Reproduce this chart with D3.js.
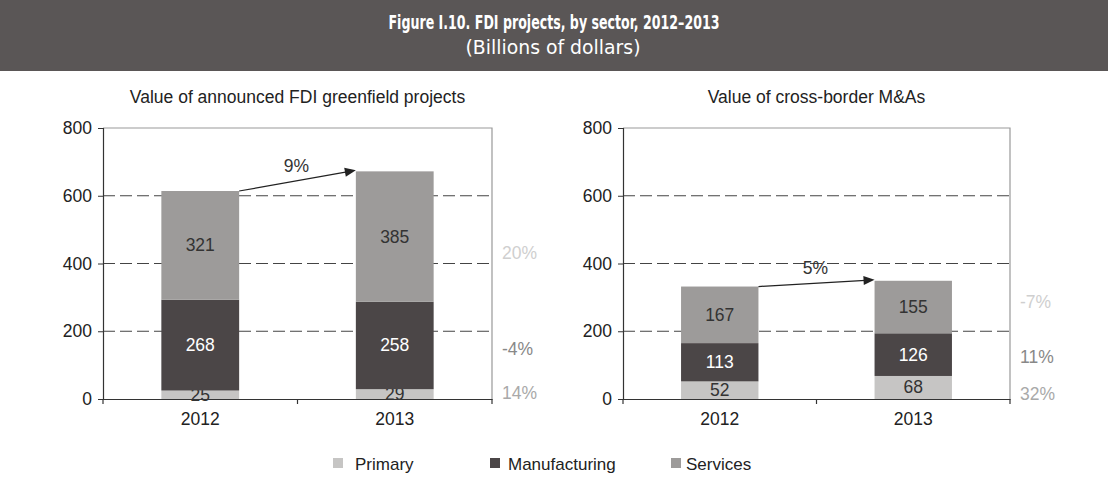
<!DOCTYPE html>
<html>
<head>
<meta charset="utf-8">
<script src="https://cdn.jsdelivr.net/npm/d3@7"></script>
<style>
  html, body { margin: 0; padding: 0; background: #fff; }
  svg { display: block; }
  text { font-family: "Liberation Sans", Arial, sans-serif; }
</style>
</head>
<body>
<svg id="chart" width="1108" height="477"></svg>
<script>
// Data (billions of dollars)
const years = ["2012", "2013"];
const sectors = ["Primary", "Manufacturing", "Services"];
const greenfieldPrimary = [25, 29];
const greenfieldManufacturing = [268, 258];
const greenfieldServices = [321, 385];
const greenfieldGrowth = ["14%", "-4%", "20%"];   // per sector, bottom to top
const greenfieldTotalGrowth = "9%";
const maPrimary = [52, 68];
const maManufacturing = [113, 126];
const maServices = [167, 155];
const maGrowth = ["32%", "11%", "-7%"];
const maTotalGrowth = "5%";
const yTicks = [0, 200, 400, 600, 800];

const colors = { Primary: "#c6c5c4", Manufacturing: "#4b4647", Services: "#9d9b9a" };
const labelColors = { Primary: "#333", Manufacturing: "#fff", Services: "#333" };
const growthColors = { Primary: "#a9a9a9", Manufacturing: "#888", Services: "#cfcfcf" };

const FS = 17.5;
const svg = d3.select("#chart");

// Header band
svg.append("rect").attr("x", 0).attr("y", 0).attr("width", 1108).attr("height", 71)
  .attr("fill", "#5a5656");
svg.append("text").attr("x", 554).attr("y", 29).attr("text-anchor", "middle")
  .attr("fill", "#fff").attr("font-size", 20).attr("font-weight", "bold")
  .style("font-family", "'DejaVu Sans Condensed', 'DejaVu Sans', sans-serif")
  .attr("textLength", 331).attr("lengthAdjust", "spacingAndGlyphs")
  .text("Figure I.10. FDI projects, by sector, 2012–2013");
svg.append("text").attr("x", 553).attr("y", 54).attr("text-anchor", "middle")
  .attr("fill", "#fff").attr("font-size", 19)
  .style("font-family", "'DejaVu Sans Condensed', 'DejaVu Sans', sans-serif")
  .attr("textLength", 175).attr("lengthAdjust", "spacingAndGlyphs")
  .text("(Billions of dollars)");

function panel(cfg) {
  const { left, right, top, bottom, title, series, growth, totalGrowth, growthY } = cfg;
  const g = svg.append("g");

  const x = d3.scaleBand().domain(years).range([left, right]).paddingInner(0.6).paddingOuter(0.3);
  const y = d3.scaleLinear().domain([0, 800]).range([bottom, top]);

  // Subtitle
  g.append("text").attr("x", (left + right) / 2).attr("y", 103).attr("text-anchor", "middle")
    .attr("font-size", FS).attr("fill", "#222").text(title);

  // Frame (top and right)
  g.append("path").attr("d", `M${left},${top}H${right}V${bottom}`)
    .attr("fill", "none").attr("stroke", "#999").attr("stroke-width", 1.2);

  // Dashed gridlines
  g.selectAll(".grid").data(yTicks.filter(t => t > 0 && t < 800)).join("line")
    .attr("x1", left).attr("x2", right)
    .attr("y1", d => y(d)).attr("y2", d => y(d))
    .attr("stroke", "#444").attr("stroke-width", 1.1).attr("stroke-dasharray", "12,5");

  // Stacked bars
  const rows = years.map((yr, i) => ({
    year: yr,
    Primary: series.Primary[i],
    Manufacturing: series.Manufacturing[i],
    Services: series.Services[i]
  }));
  const stack = d3.stack().keys(sectors)(rows);
  stack.forEach(layer => {
    const key = layer.key;
    g.selectAll(null).data(layer).join("rect")
      .attr("x", d => x(d.data.year))
      .attr("width", x.bandwidth())
      .attr("y", d => y(d[1]))
      .attr("height", d => y(d[0]) - y(d[1]))
      .attr("fill", colors[key]);
    g.selectAll(null).data(layer).join("text")
      .attr("x", d => x(d.data.year) + x.bandwidth() / 2)
      .attr("y", d => (y(d[0]) + y(d[1])) / 2 + 6)
      .attr("text-anchor", "middle").attr("font-size", FS)
      .attr("fill", labelColors[key])
      .text(d => d.data[key]);
  });

  // Axes
  const yAxis = d3.axisLeft(y).tickValues(yTicks).tickSize(5).tickPadding(6);
  const ya = g.append("g").attr("transform", `translate(${left},0)`).call(yAxis);
  ya.select(".domain").attr("stroke", "#333").attr("stroke-width", 1.2);
  ya.selectAll(".tick line").attr("stroke", "#333");
  ya.selectAll(".tick text").attr("font-size", FS).attr("fill", "#222")
    .style("font-family", "'Liberation Sans', Arial, sans-serif");

  const xa = g.append("g").attr("transform", `translate(0,${bottom})`)
    .call(d3.axisBottom(x).tickSize(0).tickPadding(14));
  xa.select(".domain").attr("stroke", "#333").attr("stroke-width", 1.2);
  xa.selectAll(".tick text").attr("font-size", FS).attr("fill", "#222")
    .style("font-family", "'Liberation Sans', Arial, sans-serif");
  // Category boundary ticks
  const step = x.step();
  const bounds = [left, x(years[0]) + x.bandwidth() + (step - x.bandwidth()) / 2, right];
  g.selectAll(".btick").data(bounds).join("line")
    .attr("x1", d => d).attr("x2", d => d)
    .attr("y1", bottom).attr("y2", bottom + 5)
    .attr("stroke", "#333").attr("stroke-width", 1.2);

  // Total growth arrow
  const t0 = d3.sum(sectors, k => rows[0][k]);
  const t1 = d3.sum(sectors, k => rows[1][k]);
  const ax0 = x(years[0]) + x.bandwidth(), ay0 = y(t0);
  const ax1 = x(years[1]), ay1 = y(t1) - 1;
  g.append("line").attr("x1", ax0).attr("y1", ay0).attr("x2", ax1 - 9).attr("y2", ay1 + (ay0 - ay1) * 9 / (ax1 - ax0))
    .attr("stroke", "#222").attr("stroke-width", 1.2);
  const ang = Math.atan2(ay1 - ay0, ax1 - ax0);
  const hl = 11, hw = 4.5;
  const bx = ax1 - hl * Math.cos(ang), by = ay1 - hl * Math.sin(ang);
  g.append("path")
    .attr("d", `M${ax1},${ay1}L${bx - hw * Math.sin(ang)},${by + hw * Math.cos(ang)}L${bx + hw * Math.sin(ang)},${by - hw * Math.cos(ang)}Z`)
    .attr("fill", "#222");
  g.append("text").attr("x", (ax0 + ax1) / 2 - 1).attr("y", (ay0 + ay1) / 2 - 9)
    .attr("text-anchor", "middle").attr("font-size", FS).attr("fill", "#333").text(totalGrowth);

  // Sector growth labels to the right of the plot
  sectors.forEach((k, i) => {
    g.append("text").attr("x", right + 10).attr("y", growthY[i])
      .attr("font-size", FS).attr("fill", growthColors[k]).text(growth[i]);
  });
}

panel({
  left: 103, right: 492, top: 128, bottom: 399,
  title: "Value of announced FDI greenfield projects",
  series: { Primary: greenfieldPrimary, Manufacturing: greenfieldManufacturing, Services: greenfieldServices },
  growth: greenfieldGrowth, totalGrowth: greenfieldTotalGrowth,
  growthY: [399, 355, 259]
});
panel({
  left: 623, right: 1010, top: 128, bottom: 399,
  title: "Value of cross-border M&As",
  series: { Primary: maPrimary, Manufacturing: maManufacturing, Services: maServices },
  growth: maGrowth, totalGrowth: maTotalGrowth,
  growthY: [400, 363, 308]
});

// Legend
const legendX = [333, 490, 671];
const legendTextX = [355, 508, 686];
const lg = svg.append("g");
sectors.forEach((k, i) => {
  lg.append("rect").attr("x", legendX[i]).attr("y", 458).attr("width", 10).attr("height", 10)
    .attr("fill", colors[k]);
  lg.append("text").attr("x", legendTextX[i]).attr("y", 470)
    .attr("font-size", 17).attr("fill", "#222").text(k);
});
</script>
</body>
</html>
